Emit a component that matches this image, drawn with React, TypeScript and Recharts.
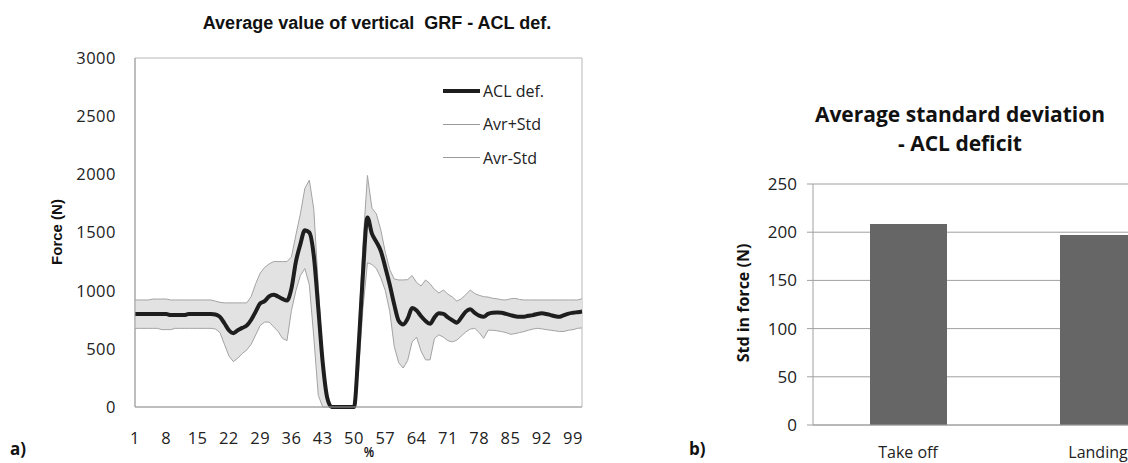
import {
  ComposedChart,
  Area,
  Line,
  XAxis,
  YAxis,
  ReferenceArea,
  Legend,
  BarChart,
  Bar,
  CartesianGrid,
} from "recharts";

// vertical GRF, ACL deficit group, % of movement 1..101
const MEAN = [
  800, 800, 800, 800, 800, 800, 800, 800, 790, 790,
  790, 790, 800, 800, 800, 800, 800, 800, 795, 775,
  720, 660, 635, 660, 680, 700, 750, 820, 890, 910,
  950, 965, 950, 930, 915, 1020, 1250, 1400, 1520, 1500,
  1300, 850, 380, 80, 0, 0, 0, 0, 0, 0,
  500, 1150, 1630, 1490, 1420, 1340, 1200, 1050, 880, 740,
  710, 760, 850, 830, 780, 740, 715, 770, 805, 800,
  770, 745, 725, 770, 820, 840, 810, 785, 775, 800,
  810, 812, 810, 800, 790, 780, 775, 775, 785, 790,
  800, 805, 800, 790, 780, 775, 790, 803, 810, 815,
  820,
];

const UPPER = [
  920, 920, 920, 920, 928, 928, 928, 928, 920, 920,
  920, 920, 920, 920, 920, 920, 920, 920, 910, 900,
  895, 895, 895, 895, 895, 895, 950, 1060, 1150, 1200,
  1230, 1250, 1250, 1250, 1250, 1290, 1480, 1660, 1880, 1950,
  1700, 1050, 420, 80, 0, 0, 0, 0, 0, 0,
  650, 1400, 1990, 1710, 1660, 1520, 1330, 1180, 1100, 1092,
  1092, 1095, 1130, 1070, 1040, 1092, 1060, 1010, 980, 1006,
  970, 945, 910, 930, 965, 1006, 975, 960, 948, 945,
  935, 930, 922, 920, 930, 934, 925, 920, 920, 920,
  920, 920, 920, 920, 920, 920, 920, 920, 920, 920,
  930,
];

const LOWER = [
  676, 676, 676, 676, 676, 676, 665, 665, 665, 676,
  676, 676, 676, 676, 676, 676, 676, 676, 670, 640,
  540, 440, 390, 420, 460, 490, 540, 620, 700, 730,
  730, 690, 650, 590, 570, 830, 1000, 1130, 1190, 1050,
  600, 100, 0, 0, 0, 0, 0, 0, 0, 0,
  300, 850, 1240, 1225, 1190, 1110, 1000, 820, 520, 380,
  335, 400, 560, 600, 480, 405, 405, 590, 620, 600,
  570, 560, 575, 610, 645, 670, 676, 640, 590, 660,
  660, 655, 648, 640, 625, 630, 640, 648, 660, 670,
  676, 672, 665, 660, 655, 648, 650, 660, 665, 676,
  680,
];

const PCT = MEAN.map((_, i) => i + 1);
const FORCE_TICKS = [0, 500, 1000, 1500, 2000, 2500, 3000];

const LEGEND_ITEMS = [
  { label: "ACL def.", color: "#1e1e1e", width: 4 },
  { label: "Avr+Std", color: "#9a9a9a", width: 1 },
  { label: "Avr-Std", color: "#9a9a9a", width: 1 },
];

// average std of force per phase
const PHASES = ["Take off", "Landing"];
const STD_VALUES = [208.5, 197];
const STD_TICKS = [0, 50, 100, 150, 200, 250];

const grfData = PCT.map((p, i) => ({
  pct: p,
  mean: MEAN[i],
  upper: UPPER[i],
  lower: LOWER[i],
  band: [LOWER[i], UPPER[i]],
}));

const stdData = PHASES.map((name, i) => ({ name, std: STD_VALUES[i] }));

const TICK_FONT = "'Open Sans', sans-serif";
const ARIAL = "'Liberation Sans', Arial, sans-serif";
const TICK_STYLE = { fontSize: 16.5, fill: "#222", fontFamily: TICK_FONT, letterSpacing: 0.5 };

function GrfLegend() {
  return (
    <div style={{ fontFamily: TICK_FONT, fontSize: 16, color: "#222" }}>
      {LEGEND_ITEMS.map((it) => (
        <div
          key={it.label}
          style={{ display: "flex", alignItems: "center", height: 33.5 }}
        >
          <span
            style={{
              display: "inline-block",
              width: 37,
              height: it.width,
              background: it.color,
              marginRight: 3,
            }}
          />
          <span>{it.label}</span>
        </div>
      ))}
    </div>
  );
}

const panelTag = (left: number): React.CSSProperties => ({
  position: "absolute",
  left,
  top: 440,
  lineHeight: "18px",
  fontFamily: TICK_FONT,
  fontWeight: 700,
  fontSize: 17,
  color: "#111",
});

export default function App() {
  return (
    <div
      style={{
        position: "absolute",
        left: 0,
        top: 0,
        width: 1128,
        height: 463,
        overflow: "hidden",
        background: "#fff",
      }}
    >
      {/* a) average vertical GRF */}
      <div
        style={{
          position: "absolute",
          left: 377,
          top: 23,
          transform: "translate(-50%, -50%)",
          whiteSpace: "pre",
          fontFamily: ARIAL,
          fontWeight: 700,
          fontSize: 18,
          color: "#111",
        }}
      >
        Average value of vertical  GRF - ACL def.
      </div>
      <div
        style={{
          position: "absolute",
          left: 56,
          top: 232,
          transform: "translate(-50%, -50%) rotate(-90deg)",
          whiteSpace: "nowrap",
          fontFamily: ARIAL,
          fontWeight: 700,
          fontSize: 15,
          color: "#111",
        }}
      >
        Force (N)
      </div>
      <div
        style={{
          position: "absolute",
          left: 369,
          top: 452,
          transform: "translate(-50%, -50%) scaleX(0.8)",
          lineHeight: "14px",
          fontFamily: ARIAL,
          fontWeight: 700,
          fontSize: 14,
          color: "#111",
        }}
      >
        %
      </div>
      <div style={{ position: "absolute", left: 0, top: 0 }}>
        <ComposedChart
          width={600}
          height={463}
          data={grfData}
          margin={{ top: 58, right: 18, bottom: 26, left: 75 }}
        >
          <XAxis
            dataKey="pct"
            type="category"
            interval={6}
            tickLine={false}
            tickSize={6}
            tickMargin={19}
            height={30}
            axisLine={{ stroke: "#a0a0a0" }}
            tick={TICK_STYLE}
          />
          <YAxis
            domain={[0, 3000]}
            ticks={FORCE_TICKS}
            width={60}
            tickLine={false}
            tickSize={6}
            tickMargin={13}
            axisLine={{ stroke: "#a0a0a0" }}
            tick={TICK_STYLE}
          />
          <ReferenceArea
            x1={PCT[0]}
            x2={PCT[PCT.length - 1]}
            y1={0}
            y2={3000}
            fill="none"
            stroke="#b8b8b8"
            ifOverflow="visible"
          />
          <Area
            dataKey="band"
            type="linear"
            stroke="none"
            fill="#e2e2e2"
            fillOpacity={1}
            isAnimationActive={false}
            legendType="none"
          />
          <Line
            dataKey="upper"
            type="linear"
            stroke="#a3a3a3"
            strokeWidth={1}
            dot={false}
            isAnimationActive={false}
          />
          <Line
            dataKey="lower"
            type="linear"
            stroke="#a3a3a3"
            strokeWidth={1}
            dot={false}
            isAnimationActive={false}
          />
          <Line
            dataKey="mean"
            type="monotone"
            stroke="#1e1e1e"
            strokeWidth={4}
            dot={false}
            isAnimationActive={false}
          />
          <Legend
            layout="vertical"
            align="center"
            verticalAlign="middle"
            content={<GrfLegend />}
            wrapperStyle={{ left: 443, top: 74, width: 130, height: "auto" }}
          />
        </ComposedChart>
      </div>
      <div style={panelTag(10)}>a)</div>

      {/* b) average standard deviation */}
      <div
        style={{
          position: "absolute",
          left: 960,
          top: 100,
          transform: "translateX(-50%)",
          textAlign: "center",
          whiteSpace: "nowrap",
          fontFamily: TICK_FONT,
          fontWeight: 700,
          fontSize: 21,
          lineHeight: "29px",
          color: "#111",
        }}
      >
        Average standard deviation
        <br />- ACL deficit
      </div>
      <div
        style={{
          position: "absolute",
          left: 743,
          top: 303,
          transform: "translate(-50%, -50%) rotate(-90deg)",
          whiteSpace: "nowrap",
          fontFamily: TICK_FONT,
          fontWeight: 700,
          fontSize: 16,
          color: "#111",
        }}
      >
        Std in force (N)
      </div>
      <div style={{ position: "absolute", left: 700, top: 0 }}>
        <BarChart
          width={520}
          height={463}
          data={stdData}
          margin={{ top: 184, right: 27, bottom: 8, left: 53 }}
        >
          <CartesianGrid vertical={false} stroke="#a0a0a0" />
          <XAxis
            dataKey="name"
            tickLine={false}
            tickSize={6}
            tickMargin={16}
            height={30}
            axisLine={{ stroke: "#a0a0a0" }}
            tick={{ fontSize: 16, fill: "#222", fontFamily: TICK_FONT }}
          />
          <YAxis
            domain={[0, 250]}
            ticks={STD_TICKS}
            width={60}
            tickSize={6}
            tickMargin={10}
            tickLine={{ stroke: "#a0a0a0" }}
            axisLine={{ stroke: "#a0a0a0" }}
            tick={{ fontSize: 17, fill: "#222", fontFamily: TICK_FONT }}
          />
          <Bar dataKey="std" fill="#666666" barSize={77} isAnimationActive={false} />
        </BarChart>
      </div>
      <div style={panelTag(689)}>b)</div>
    </div>
  );
}
